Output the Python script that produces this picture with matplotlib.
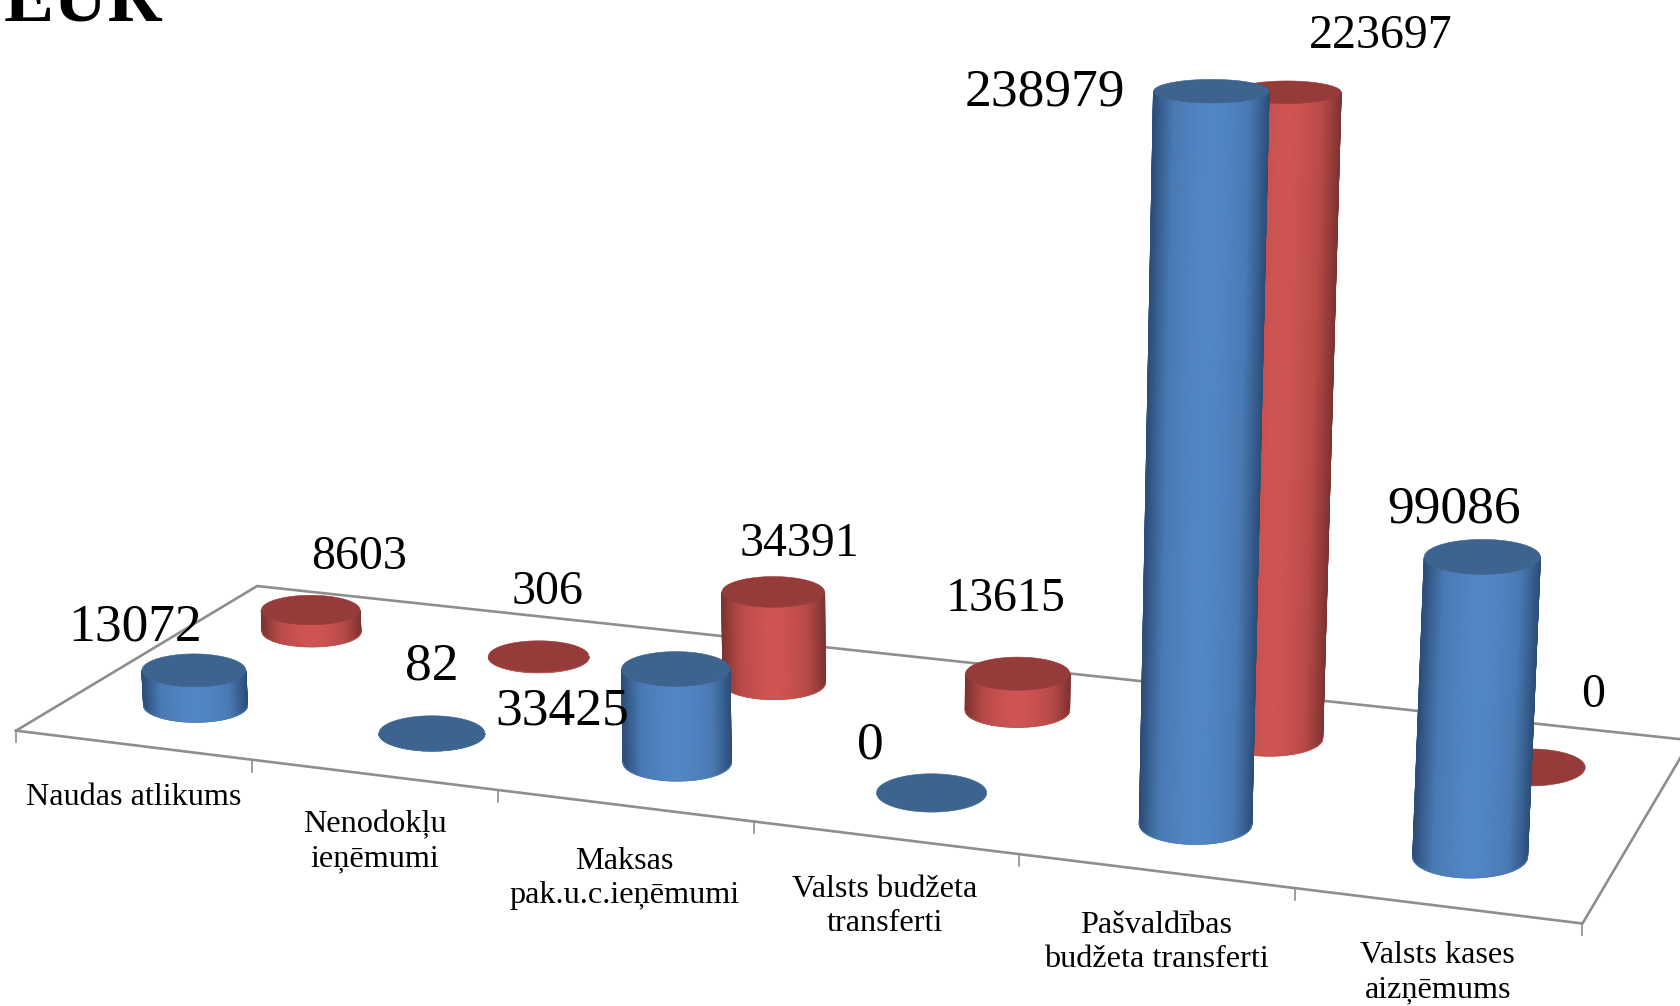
#!/usr/bin/env python
import numpy as np
import matplotlib
matplotlib.use('Agg')
import matplotlib.pyplot as plt
from matplotlib.colors import LinearSegmentedColormap

categories = ['Naudas atlikums', 'Nenodokļu\nieņēmumi', 'Maksas\npak.u.c.ieņēmumi',
              'Valsts budžeta\ntransferti', 'Pašvaldības\nbudžeta transferti', 'Valsts kases\naizņēmums']
blue_values = [13072, 82, 33425, 0, 238979, 99086]
red_values = [8603, 306, 34391, 13615, 223697, 0]

# label placement, in the 1568x939 frame used by the axes below
blue_label_pos = [(126, 586), (403, 622), (525, 664), (812, 696), (975, 86), (1357, 476)]
red_label_pos = [(335, 520), (511, 553), (746, 508), (939, 559), (1289, 34), (1487, 649)]
cat_label_pos = [(125, 744), (350, 786), (583, 820), (826, 846), (1079, 880), (1342, 908)]

# floor corners: front left, front right, back right, back left
fx = [15, 1477, 1578, 240]
fy = [682, 862, 691, 547]

sx = fx[0] - fx[1] + fx[2] - fx[3]
sy = fy[0] - fy[1] + fy[2] - fy[3]
dx1, dx2 = fx[1] - fx[2], fx[3] - fx[2]
dy1, dy2 = fy[1] - fy[2], fy[3] - fy[2]
det = dx1 * dy2 - dx2 * dy1
g = (sx * dy2 - dx2 * sy) / det
h = (dx1 * sy - sx * dy1) / det
a, b, c = fx[1] - fx[0] + g * fx[1], fx[3] - fx[0] + h * fx[3], fx[0]
d, e, f = fy[1] - fy[0] + g * fy[1], fy[3] - fy[0] + h * fy[3], fy[0]


def floor(u, w):
    # u along the categories, w into the depth, both 0..1
    u = u + 0.0042 * np.sin(np.pi * u)
    q = g * u + h * w + 1
    return (a * u + b * w + c) / q, (d * u + e * w + f) / q


def cylinder(ax, i, depth, value, cmap, top, z):
    n = len(categories)
    x0, y0 = floor((i + 0.5) / n, depth)
    rx0 = 0.036 * (y0 + 688)
    ry0 = rx0 * (0.31 + (y0 - 614) * 0.0003)

    # height with a little perspective, verticals lean away from x=830
    H = 5.15e-5 * value * rx0 * (1 + value * 2.5e-7)
    x1 = x0 + (x0 - 830) * H / 13300
    y1 = y0 - H
    rx1 = rx0 * (1 + H * 4e-5)
    ry1 = ry0 * (1 - 0.0006 * H)

    t = np.linspace(0, np.pi, 81)
    if H > 0:
        X = np.array([x0 + rx0 * np.cos(t), x1 + rx1 * np.cos(t)])
        Y = np.array([y0 + ry0 * np.sin(t), y1 + ry1 * np.sin(t)])
        shade = 1 - np.abs(np.cos(t)) ** 1.6
        ax.pcolormesh(X, Y, np.array([shade, shade]), cmap=cmap, vmin=0, vmax=1,
                      shading='gouraud', zorder=z)
        # round off the gouraud edge along the bottom
        ax.plot(X[0], Y[0], color=cmap(0.75), lw=0.6, zorder=z)
    t = np.linspace(0, 2 * np.pi, 121)
    ax.fill(x1 + rx1 * np.cos(t), y1 + ry1 * np.sin(t), color=top, lw=0.4, zorder=z + 0.1)


blue_cmap = LinearSegmentedColormap.from_list('b', ['#2c4e78', '#4a7ab4', '#5286c6'])
red_cmap = LinearSegmentedColormap.from_list('r', ['#7e3331', '#b84a48', '#cf5552'])
blue_top = '#3d638f'
red_top = '#953b39'

plt.rcParams['font.family'] = ['Liberation Serif', 'DejaVu Serif']

fig = plt.figure(figsize=(16.8, 10.06), dpi=100)
ax = fig.add_axes([0, 0, 1, 1])
ax.axis('off')

# floor outline and ticks
grey = '#8e8e8e'
ax.plot(fx + [fx[0]], fy + [fy[0]], color=grey, lw=1.9, zorder=1, solid_joinstyle='miter')
for i in range(len(categories) + 1):
    tx_, ty_ = floor(i / len(categories), 0)
    ax.plot([tx_, tx_], [ty_, ty_ + 11], color=grey, lw=1.2, zorder=1)

for i, v in enumerate(red_values):
    cylinder(ax, i, 0.75, v, red_cmap, red_top, 3)
for i, v in enumerate(blue_values):
    cylinder(ax, i, 0.25, v, blue_cmap, blue_top, 4)

ax.set_xlim(0, 1568)
ax.set_ylim(939, 0)

for v, p in zip(blue_values, blue_label_pos):
    ax.text(p[0], p[1], str(v), fontsize=38.5, ha='center', va='center', color='black', zorder=6)
for v, p in zip(red_values, red_label_pos):
    ax.text(p[0], p[1], str(v), fontsize=34.5, ha='center', va='center', color='black', zorder=6)
for name, p in zip(categories, cat_label_pos):
    ax.text(p[0], p[1], name, fontsize=23.2, ha='center', va='center', linespacing=1.23, color='black')

ax.text(3, 19, 'EUR', fontsize=54, fontweight='bold', ha='left', va='baseline', color='black')

fig.savefig('out.png', dpi=100)
